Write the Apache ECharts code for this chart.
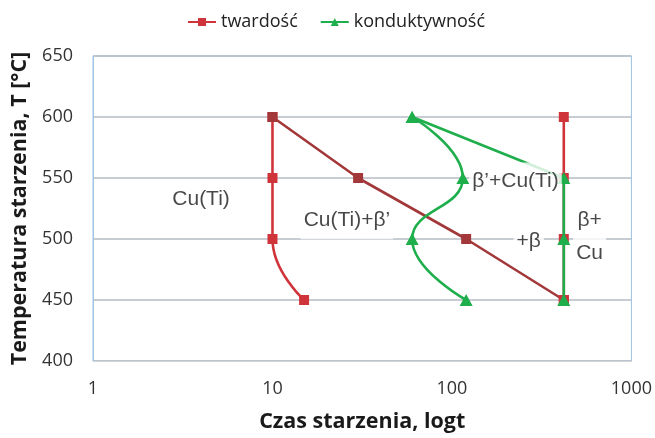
<!DOCTYPE html>
<html>
<head>
<meta charset="utf-8">
<script src="https://cdn.jsdelivr.net/npm/echarts@6/dist/echarts.min.js"></script>
<style>
  html, body { margin: 0; padding: 0; background: #fff; }
  #chart { width: 655px; height: 438px; }
</style>
</head>
<body>
<div id="chart"></div>
<script>
// Aging phase diagram: aging temperature vs. log aging time
const timeTicks = [1, 10, 100, 1000];
const tempTicks = [400, 450, 500, 550, 600, 650];

// Hardness (twardość) boundaries
const hardLeftTime   = [10, 10, 10, 15];
const hardLeftTemp   = [600, 550, 500, 450];
const hardDiagTime   = [10, 30, 120, 420];
const hardDiagTemp   = [600, 550, 500, 450];
const hardRightTime  = [420, 420, 420, 420];
const hardRightTemp  = [600, 550, 500, 450];

// Conductivity (konduktywność) boundaries
const condCurveTime  = [60, 115, 60, 120];
const condCurveTemp  = [600, 550, 500, 450];
const condEdgeTime   = [60, 420, 420, 420];
const condEdgeTemp   = [600, 550, 500, 450];

// Phase field labels
const phaseText = ['Cu(Ti)', 'Cu(Ti)+β\u2019', 'β\u2019+Cu(Ti)', '+β', 'β+\nCu'];
const phaseTime = [4.0, 26, 226, 268, 585];
const phaseTemp = [533, 515, 547.5, 498, 501.5];

const pairs = (xs, ys) => xs.map((x, i) => [x, ys[i]]);

const RED = '#d0343b';
const RED_DARK = '#a3383a';
const GREEN = '#1fae4c';

const chart = echarts.init(document.getElementById('chart'), null, { renderer: 'canvas' });

const lineSeries = (name, data, color, symbol, smooth, symbolSize, z) => ({
  name, type: 'line', data, smooth, symbol, symbolSize,
  showSymbol: true,
  lineStyle: { color, width: 2.6 },
  itemStyle: { color },
  emphasis: { disabled: true },
  z
});

chart.setOption({
  animation: false,
  legend: {
    data: ['twardość', 'konduktywność'],
    top: 8,
    left: 182,
    itemWidth: 28,
    itemHeight: 10,
    itemGap: 22,
    textStyle: { fontFamily: 'Open Sans', fontSize: 18, color: '#222' }
  },
  grid: {
    left: 93, right: 22, top: 56, bottom: 72,
    show: true, borderColor: '#9dc3e6', borderWidth: 1
  },
  xAxis: {
    type: 'log',
    logBase: 10,
    min: timeTicks[0],
    max: timeTicks[timeTicks.length - 1],
    name: 'Czas starzenia, logt',
    nameLocation: 'middle',
    nameGap: 50,
    nameTextStyle: { fontFamily: 'Open Sans', fontWeight: 'bold', fontSize: 21.5, color: '#1a1a1a' },
    axisLine: { show: true, lineStyle: { color: '#d4d4d4', width: 1 } },
    axisTick: { show: false },
    splitLine: { show: false },
    axisLabel: {
      fontFamily: 'Open Sans', fontSize: 18, color: '#333', margin: 19,
      formatter: v => timeTicks.includes(v) ? String(v) : ''
    }
  },
  yAxis: {
    type: 'value',
    min: tempTicks[0],
    max: tempTicks[tempTicks.length - 1],
    interval: 50,
    name: 'Temperatura starzenia, T [°C]',
    nameLocation: 'middle',
    nameGap: 60,
    nameTextStyle: { fontFamily: 'Open Sans', fontWeight: 'bold', fontSize: 21.5, color: '#1a1a1a' },
    axisLine: { show: true, lineStyle: { color: '#9dc3e6', width: 1 } },
    axisTick: { show: false },
    splitLine: { show: true, lineStyle: { color: '#b4bcc4', width: 1.5 } },
    axisLabel: { fontFamily: 'Open Sans', fontSize: 18, color: '#333', margin: 20 }
  },
  series: [
    lineSeries('twardość', pairs(hardLeftTime, hardLeftTemp), RED, 'rect', 0.5, 10, 3),
    lineSeries('twardość', pairs(hardDiagTime, hardDiagTemp), RED_DARK, 'rect', false, 10, 3),
    lineSeries('twardość', pairs(hardRightTime, hardRightTemp), RED, 'rect', false, 10, 3),
    lineSeries('konduktywność', pairs(condCurveTime, condCurveTemp), GREEN, 'triangle', 0.5, [13, 12], 4),
    lineSeries('konduktywność', pairs(condEdgeTime, condEdgeTemp), GREEN, 'triangle', false, [13, 12], 4),
    {
      name: 'phases',
      type: 'scatter',
      data: phaseTime.map((t, i) => ({ value: [t, phaseTemp[i]], label: { formatter: phaseText[i] } })),
      symbolSize: 1,
      itemStyle: { color: 'rgba(0,0,0,0)' },
      z: 10,
      silent: true,
      label: {
        show: true,
        position: 'inside',
        fontFamily: 'Liberation Sans',
        fontSize: 21,
        color: '#1a1a1a',
        backgroundColor: '#fff',
        lineHeight: 33,
        padding: [2, 3]
      }
    }
  ]
});
</script>
</body>
</html>
